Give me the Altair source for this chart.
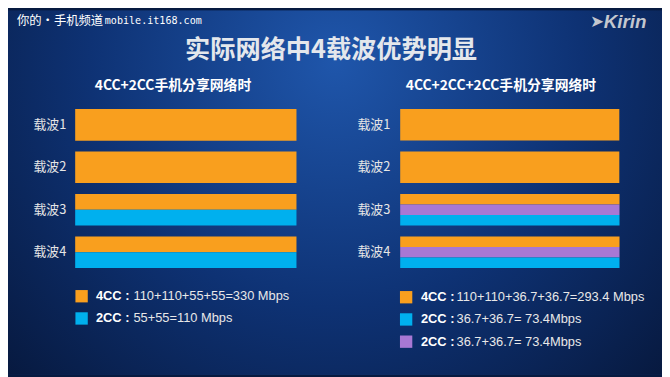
import altair as alt
import pandas as pd

# ---------------- data ----------------
carriers = ["载波1", "载波2", "载波3", "载波4"]
series_names = ["4CC", "2CC-a", "2CC-b"]          # a = blue, b = purple
series_colors = ["#F99F1E", "#00B0EE", "#A878D4"]

# Mbps each phone gets on each carrier
left_4cc = [110, 110, 55, 55]
left_2cc = [0, 0, 55, 55]
right_4cc = [110, 110, 36.7, 36.7]
right_2cc_purple = [0, 0, 36.7, 36.7]
right_2cc_blue = [0, 0, 36.7, 36.7]

panel_titles = ["4CC+2CC手机分享网络时", "4CC+2CC+2CC手机分享网络时"]
main_title = "实际网络中4载波优势明显"
watermark_cn = "你的•手机频道"
watermark_url = "mobile.it168.com"

legend_left_bold = ["4CC :", "2CC :"]
legend_left_text = ["110+110+55+55=330 Mbps", "55+55=110 Mbps"]
legend_left_series = ["4CC", "2CC-a"]
legend_right_bold = ["4CC :", "2CC :", "2CC :"]
legend_right_text = ["110+110+36.7+36.7=293.4 Mbps", "36.7+36.7= 73.4Mbps", "36.7+36.7= 73.4Mbps"]
legend_right_series = ["4CC", "2CC-a", "2CC-b"]


def rows(parts):
    out = []
    for order, (name, vals) in enumerate(parts):
        for c, v in zip(carriers, vals):
            if v > 0:
                out.append({"carrier": c, "series": name, "mbps": v, "order": order})
    return pd.DataFrame(out)


df_left = rows([("4CC", left_4cc), ("2CC-a", left_2cc)])
df_right = rows([("4CC", right_4cc), ("2CC-b", right_2cc_purple), ("2CC-a", right_2cc_blue)])

color_scale = alt.Scale(domain=series_names, range=series_colors)
CJK = "Noto Sans CJK SC"


def panel(df, w, pad):
    total = float(df.groupby("carrier")["mbps"].sum().max())
    base = alt.Chart().transform_stack(
        stack="mbps", groupby=["carrier"], as_=["s0", "s1"],
        sort=[alt.SortField("order", order="ascending")],
    ).transform_joinaggregate(cap="sum(mbps)", groupby=["carrier"])
    rect = base.mark_rect().encode(
        x=alt.X("cap:Q", scale=alt.Scale(domain=[0, total], nice=False), axis=None),
        x2=alt.X2Datum(0),
        y=alt.Y("s0:Q", scale=alt.Scale(domain=[0, total], reverse=True, nice=False), axis=None),
        y2="s1:Q",
        color=alt.Color("series:N", scale=color_scale, legend=None),
    )
    label = base.transform_filter("datum.order == 0").mark_text(
        align="right", baseline="middle", fontSize=13, font=CJK, color="#E6E6E6",
    ).encode(x=alt.value(-pad), y=alt.value(16), text="carrier:N")
    return alt.layer(rect, label, data=df).properties(width=w, height=32).facet(
        row=alt.Row("carrier:N", sort=carriers, title=None, header=alt.Header(labels=False)),
        spacing=11,
    )


one = pd.DataFrame({"k": [0]})

# background + all free text
bg = alt.Chart(one).mark_rect(
    fill=alt.RadialGradient(
        gradient="radial", x1=0.5, y1=0.3, x2=0.5, y2=0.3, r1=0, r2=0.75,
        stops=[alt.GradientStop(color="#1F56AB", offset=0),
               alt.GradientStop(color="#0E3274", offset=0.5),
               alt.GradientStop(color="#061536", offset=1)],
    )
).encode(x=alt.value(0), x2=alt.value(662), y=alt.value(0), y2=alt.value(369))


def txt(s, x, y, size, color="#FFFFFF", font=CJK, weight="normal", align="left",
        style="normal"):
    return alt.Chart(one).mark_text(
        text=s, fontSize=size, font=font, fontWeight=weight, color=color,
        align=align, baseline="middle", fontStyle=style,
    ).encode(x=alt.value(x), y=alt.value(y))


layers = [
    bg,
    txt(watermark_cn, 9, 11, 12.5),
    txt(watermark_url, 98, 11, 10.2, font="DejaVu Sans Mono"),
    txt("➤", 589, 12, 17, color="#C3C7CF", font="DejaVu Sans"),
    txt("Kirin", 603, 12, 19, color="#C3C7CF", font="Liberation Sans", weight="bold", style="italic"),
    txt(main_title, 327, 40, 25.5, color="#E4E7EC", weight="bold", align="center"),
    txt(panel_titles[0], 167, 77, 14, weight="bold", align="center"),
    txt(panel_titles[1], 499, 77, 14, weight="bold", align="center"),
]

leg_l = pd.DataFrame({"idx": [0, 1], "bold": legend_left_bold, "text": legend_left_text,
                      "series": legend_left_series})
leg_r = pd.DataFrame({"idx": [0, 1, 2], "bold": legend_right_bold, "text": legend_right_text,
                      "series": legend_right_series})


def legend(df, x0, xb, xt, yr):
    ly = alt.Scale(domain=[0, 2], range=yr)
    sq = alt.Chart(df).mark_square(size=156, opacity=1).encode(
        x=alt.value(x0), y=alt.Y("idx:Q", scale=ly, axis=None),
        color=alt.Color("series:N", scale=color_scale, legend=None))
    b = alt.Chart(df).mark_text(fontSize=13, font="Liberation Sans", fontWeight="bold",
                                color="#FFFFFF", align="left", baseline="middle").encode(
        x=alt.value(xb), y=alt.Y("idx:Q", scale=ly, axis=None), text="bold:N")
    t = alt.Chart(df).mark_text(fontSize=13, font="Liberation Sans",
                                color="#E8E8E8", align="left", baseline="middle").encode(
        x=alt.value(xt), y=alt.Y("idx:Q", scale=ly, axis=None), text="text:N")
    return alt.layer(sq, b, t)


header = alt.layer(
    *layers,
    legend(leg_l, 74.5, 89, 127, [289.5, 334.5]),
    legend(leg_r, 403, 418, 454, [290.5, 335.5]),
).resolve_scale(y="independent").properties(width=662, height=100)


def spacer(w):
    return alt.Chart(one).mark_rect(opacity=0).encode(
        x=alt.value(0), x2=alt.value(1), y=alt.value(0), y2=alt.value(1)).properties(width=w, height=10)


bars = alt.hconcat(spacer(25), panel(df_left, 224, 9), spacer(61), panel(df_right, 222, 10), spacing=0)

chart = (
    alt.vconcat(header, bars, spacing=0, bounds="flush")
    .properties(padding=0, background="#071a40")
    .configure_view(strokeWidth=0)
)

chart.save("out.html", embed_options={"renderer": "svg", "actions": False})
